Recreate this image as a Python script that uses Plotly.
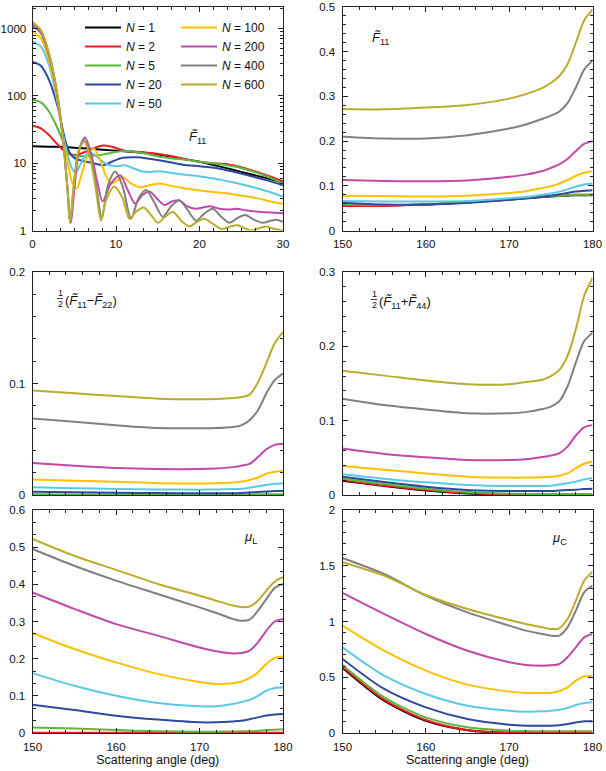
import plotly.graph_objects as go

W, H = 606, 771

# ---------------- data ----------------
N_values = ["1", "2", "5", "20", "50", "100", "200", "400", "600"]
colors = ["#000000", "#ec1c24", "#5cb83c", "#2e4aa0", "#5bc9e6",
          "#ffc000", "#c04aa8", "#808080", "#b8ae2c"]

# forward-scattering F11 (0-30 deg), log scale
fwd_x_1 = [0, 3, 5, 8, 11, 14, 17, 20, 22, 24, 26, 28, 30]
fwd_y_1 = [17.9, 17.5, 17, 16, 15, 14, 12.3, 10.5, 9.2, 8, 6.9, 6, 5.1]
fwd_x_2 = [0, 1, 2, 3, 4, 4.8, 5.5, 6.5, 7.5, 8.5, 9.5, 10.5, 11.5, 12.5, 14, 15.5, 17, 18.5, 20, 21.5, 23, 24.5, 26, 27.5, 29, 30]
fwd_y_2 = [36, 33, 26, 19, 14.5, 13.3, 13.5, 15, 17, 18.3, 17.5, 16, 15, 14.8, 14.2, 13.5, 12.5, 11.2, 10.5, 10.0, 9.8, 9.0, 8, 7, 6, 5.4]
fwd_x_5 = [0, 1, 2, 3, 4, 4.7, 5.5, 6.5, 7.5, 8.5, 9.5, 10.5, 11.5, 12.5, 14, 15.5, 17, 18.5, 20, 21.5, 23, 24.5, 26, 27.5, 29, 30]
fwd_y_5 = [88, 80, 58, 33, 17, 13.2, 12.8, 12.6, 13, 13.5, 14.3, 15, 15.2, 14.5, 13.5, 12.3, 11.6, 11.2, 10.5, 10, 9.5, 8.8, 7.8, 6.8, 5.7, 5.0]
fwd_x_20 = [0, 1, 2, 3, 4, 4.5, 5, 6, 7, 8.5, 9.5, 10.8, 12.5, 14, 16, 18, 20, 22, 24, 26, 28, 30]
fwd_y_20 = [320, 280, 170, 70, 20, 14, 12, 10.8, 10.2, 9.3, 10.5, 12, 12.2, 11.6, 10.6, 9.5, 9, 8.5, 7.5, 6.5, 5.6, 4.7]
fwd_x_50 = [0, 1, 2, 3, 3.7, 4.3, 4.8, 5.2, 5.8, 6.6, 7.4, 8.2, 9.0, 10.0, 11.0, 12.0, 13.2, 14.2, 15.2, 16.5, 18, 19.5, 21, 22.5, 24, 25.5, 27, 28.5, 30]
fwd_y_50 = [645, 540, 280, 80, 25, 12, 8, 7.2, 10, 14, 13.5, 11, 9.5, 9, 9.3, 8.5, 7.5, 7.4, 7.6, 7.2, 6.8, 6.5, 6.1, 5.7, 5.2, 4.7, 4.2, 3.7, 3.2]
fwd_x_100 = [0, 1, 2, 3, 3.7, 4.3, 4.8, 5.3, 5.9, 6.6, 7.3, 8.0, 8.7, 9.4, 10.1, 10.8, 11.8, 12.8, 14.0, 15.2, 16.3, 17.5, 19, 21, 23, 25, 27, 28.5, 30]
fwd_y_100 = [900, 720, 330, 85, 22, 9, 5, 4.2, 7, 13, 16.5, 12, 7, 5, 5.5, 6.2, 5, 4.4, 4.7, 5, 4.7, 4.4, 4.1, 3.8, 3.6, 3.3, 3.0, 2.7, 2.5]
fwd_x_200 = [0, 1, 2, 3, 3.7, 4.2, 4.6, 5.0, 5.6, 6.3, 7.0, 7.8, 8.4, 9.4, 10.5, 11.4, 12.3, 13.1, 14.0, 15.0, 15.8, 16.7, 17.6, 18.5, 19.5, 20.4, 21.3, 22.4, 23.5, 24.5, 25.5, 27, 28.5, 30]
fwd_y_200 = [1100, 860, 390, 95, 20, 4, 1.3, 4, 16, 24, 14, 5, 2.7, 5, 6.6, 4, 2.5, 3.3, 3.8, 2.9, 2.4, 2.7, 2.8, 2.3, 2.1, 2.2, 2.3, 2.1, 2.05, 2.1, 2.0, 1.9, 1.85, 1.8]
fwd_x_400 = [0, 1, 2, 3, 3.7, 4.2, 4.5, 4.9, 5.5, 6.2, 6.9, 7.7, 8.3, 9.0, 9.9, 10.8, 11.8, 12.7, 13.6, 14.6, 15.6, 16.6, 17.6, 18.6, 19.6, 20.6, 21.6, 22.6, 23.6, 24.6, 25.5, 26.5, 27.6, 28.5, 29.2, 30]
fwd_y_400 = [1200, 920, 410, 100, 20, 4, 1.3, 4, 15, 22, 13, 4, 1.5, 4.5, 7.5, 4.5, 1.5, 3, 4, 2.6, 1.6, 2.3, 2.8, 2, 1.4, 1.8, 2.1, 1.6, 1.3, 1.55, 1.7, 1.45, 1.3, 1.4, 1.45, 1.35]
fwd_x_600 = [0, 1, 2, 3, 3.7, 4.2, 4.5, 4.9, 5.5, 6.2, 6.9, 7.6, 8.2, 8.8, 9.8, 10.8, 11.6, 12.4, 13.3, 14.2, 15.0, 15.9, 16.8, 17.8, 18.8, 19.7, 20.6, 21.6, 22.7, 23.7, 24.6, 25.4, 26.2, 27.1, 28.0, 29.0, 30]
fwd_y_600 = [1250, 950, 420, 100, 20, 4, 1.3, 4, 15, 21, 12, 4, 1.4, 2.8, 4.5, 3, 1.5, 1.9, 2.2, 1.7, 1.3, 1.6, 1.9, 1.4, 1.15, 1.35, 1.5, 1.25, 1.05, 1.15, 1.2, 1.08, 1.0, 1.08, 1.15, 1.05, 1.0]

fwd_x = [fwd_x_1, fwd_x_2, fwd_x_5, fwd_x_20, fwd_x_50, fwd_x_100, fwd_x_200, fwd_x_400, fwd_x_600]
fwd_y = [fwd_y_1, fwd_y_2, fwd_y_5, fwd_y_20, fwd_y_50, fwd_y_100, fwd_y_200, fwd_y_400, fwd_y_600]

# backscattering region (150-180 deg)
back_x = [150, 155, 160, 165, 170, 172, 174, 175, 176, 177, 178, 179, 180]

f11_back = [
    [0.056, 0.056, 0.058, 0.063, 0.069, 0.072, 0.075, 0.076, 0.077, 0.078, 0.079, 0.079, 0.079],
    [0.055, 0.055, 0.058, 0.064, 0.070, 0.073, 0.076, 0.077, 0.078, 0.079, 0.080, 0.080, 0.080],
    [0.059, 0.057, 0.058, 0.063, 0.070, 0.073, 0.076, 0.077, 0.078, 0.079, 0.080, 0.080, 0.080],
    [0.062, 0.058, 0.058, 0.062, 0.069, 0.072, 0.076, 0.078, 0.081, 0.084, 0.087, 0.089, 0.090],
    [0.066, 0.065, 0.065, 0.066, 0.072, 0.075, 0.080, 0.083, 0.087, 0.092, 0.098, 0.103, 0.105],
    [0.078, 0.077, 0.076, 0.078, 0.084, 0.088, 0.095, 0.099, 0.105, 0.113, 0.122, 0.129, 0.132],
    [0.113, 0.111, 0.110, 0.112, 0.120, 0.125, 0.133, 0.140, 0.148, 0.160, 0.178, 0.194, 0.200],
    [0.210, 0.206, 0.206, 0.213, 0.228, 0.237, 0.250, 0.257, 0.266, 0.285, 0.320, 0.360, 0.380],
    [0.272, 0.271, 0.275, 0.281, 0.295, 0.305, 0.319, 0.330, 0.345, 0.372, 0.420, 0.470, 0.494],
]

f11_minus_f22 = [
    [0, 0, 0, 0, 0, 0, 0, 0, 0, 0, 0, 0, 0],
    [0.0001, 0.0001, 0.0001, 0.0001, 0.0001, 0.0001, 0.0001, 0.0001, 0.0001, 0.0001, 0.0001, 0.0001, 0.0001],
    [0.0006, 0.0005, 0.0004, 0.0004, 0.0004, 0.0004, 0.0004, 0.0004, 0.0005, 0.0006, 0.0006, 0.0007, 0.0007],
    [0.0030, 0.0025, 0.0020, 0.0017, 0.0015, 0.0015, 0.0016, 0.0018, 0.0022, 0.0027, 0.0031, 0.0035, 0.0036],
    [0.0069, 0.0061, 0.0054, 0.0050, 0.0048, 0.0050, 0.0054, 0.0057, 0.0066, 0.0078, 0.0090, 0.0100, 0.0106],
    [0.0139, 0.0128, 0.0118, 0.0106, 0.0103, 0.0105, 0.0112, 0.0120, 0.0135, 0.0157, 0.0190, 0.0208, 0.0218],
    [0.0287, 0.0263, 0.0242, 0.0233, 0.0233, 0.0238, 0.0250, 0.0263, 0.0280, 0.0340, 0.0410, 0.0450, 0.0460],
    [0.0686, 0.0656, 0.0625, 0.0600, 0.0598, 0.0600, 0.0610, 0.0625, 0.0670, 0.0760, 0.0910, 0.1030, 0.1090],
    [0.0937, 0.0912, 0.0888, 0.0864, 0.0858, 0.0862, 0.0870, 0.0878, 0.0900, 0.1010, 0.1180, 0.1360, 0.1460],
]

f11_plus_f44 = [
    [0.019, 0.012, 0.006, 0.002, 0.0003, 0.0001, 0, 0, 0, 0, 0, 0, 0],
    [0.020, 0.0126, 0.0067, 0.0027, 0.0005, 0.0002, 0.0001, 0, 0, 0, 0, 0, 0],
    [0.022, 0.0148, 0.0085, 0.004, 0.0018, 0.0015, 0.0013, 0.0013, 0.0013, 0.0013, 0.0013, 0.0013, 0.0013],
    [0.0247, 0.0175, 0.0112, 0.0067, 0.0054, 0.0054, 0.0054, 0.0054, 0.006, 0.0066, 0.0072, 0.008, 0.0085],
    [0.028, 0.022, 0.017, 0.0135, 0.012, 0.012, 0.0122, 0.0126, 0.014, 0.016, 0.018, 0.021, 0.023],
    [0.039, 0.034, 0.029, 0.0247, 0.0234, 0.0234, 0.024, 0.0247, 0.026, 0.029, 0.036, 0.042, 0.045],
    [0.0625, 0.0553, 0.0508, 0.047, 0.047, 0.048, 0.051, 0.053, 0.056, 0.065, 0.080, 0.091, 0.094],
    [0.1295, 0.121, 0.115, 0.110, 0.110, 0.1115, 0.1156, 0.119, 0.126, 0.146, 0.178, 0.207, 0.218],
    [0.167, 0.1606, 0.154, 0.149, 0.149, 0.152, 0.155, 0.160, 0.168, 0.187, 0.223, 0.268, 0.292],
]

mu_L = [
    [0, 0, 0, 0, 0, 0, 0, 0, 0, 0, 0, 0, 0],
    [0.0005, 0.0005, 0.0005, 0.0005, 0.0005, 0.0005, 0.0005, 0.0005, 0.0005, 0.0005, 0.0005, 0.0005, 0.0005],
    [0.015, 0.012, 0.008, 0.005, 0.0036, 0.0036, 0.004, 0.0045, 0.005, 0.006, 0.008, 0.009, 0.0099],
    [0.076, 0.062, 0.0466, 0.036, 0.0287, 0.0287, 0.031, 0.033, 0.037, 0.042, 0.047, 0.050, 0.051],
    [0.161, 0.127, 0.100, 0.081, 0.0717, 0.0717, 0.078, 0.083, 0.089, 0.100, 0.114, 0.121, 0.123],
    [0.269, 0.226, 0.190, 0.159, 0.137, 0.132, 0.134, 0.138, 0.148, 0.163, 0.186, 0.202, 0.206],
    [0.378, 0.334, 0.293, 0.262, 0.230, 0.220, 0.214, 0.215, 0.2215, 0.244, 0.275, 0.300, 0.307],
    [0.495, 0.450, 0.410, 0.374, 0.338, 0.323, 0.307, 0.302, 0.305, 0.329, 0.360, 0.390, 0.401],
    [0.522, 0.477, 0.439, 0.401, 0.3695, 0.356, 0.343, 0.339, 0.340, 0.356, 0.383, 0.407, 0.419],
]

mu_C = [
    [0.585, 0.290, 0.110, 0.025, 0.002, 0.001, 0, 0, 0, 0, 0, 0, 0],
    [0.595, 0.299, 0.117, 0.027, 0.003, 0.001, 0, 0, 0, 0, 0, 0, 0],
    [0.610, 0.320, 0.140, 0.051, 0.021, 0.017, 0.015, 0.015, 0.015, 0.015, 0.015, 0.015, 0.015],
    [0.664, 0.395, 0.230, 0.126, 0.075, 0.066, 0.066, 0.066, 0.070, 0.081, 0.095, 0.105, 0.105],
    [0.768, 0.514, 0.350, 0.245, 0.200, 0.191, 0.194, 0.200, 0.209, 0.225, 0.251, 0.268, 0.275],
    [0.963, 0.738, 0.559, 0.434, 0.371, 0.359, 0.359, 0.362, 0.374, 0.410, 0.469, 0.508, 0.514],
    [1.256, 1.067, 0.888, 0.738, 0.634, 0.610, 0.604, 0.607, 0.619, 0.679, 0.768, 0.858, 0.888],
    [1.570, 1.426, 1.232, 1.082, 0.963, 0.918, 0.888, 0.873, 0.873, 0.948, 1.097, 1.262, 1.321],
    [1.531, 1.411, 1.238, 1.112, 1.013, 0.978, 0.948, 0.933, 0.939, 1.022, 1.187, 1.366, 1.447],
]

# ---------------- figure ----------------
FONT = "Arial, Liberation Sans, sans-serif"
fig = go.Figure()

def px2x(p):
    return p / W

def px2y(p):
    return 1 - p / H

# subplot domains (pixels)
col_x = [(32.5, 283.0), (342.5, 592.5)]
row_y = [(7.0, 230.5), (272.0, 495.0), (510.0, 733.0)]

panels = [
    # (row, col, x-data, series, yrange, ydtick, yminor, log)
    (0, 0, None, fwd_y, None, None, None, True),
    (0, 1, back_x, f11_back, [0, 0.5], 0.1, 0.02, False),
    (1, 0, back_x, f11_minus_f22, [0, 0.2], 0.1, 0.02, False),
    (1, 1, back_x, f11_plus_f44, [0, 0.3], 0.1, 0.02, False),
    (2, 0, back_x, mu_L, [0, 0.6], 0.1, 0.1 / 3, False),
    (2, 1, back_x, mu_C, [0, 2], 0.5, 0.1, False),
]

axis_common = dict(
    showline=True, linecolor="#222222", linewidth=1, mirror="ticks",
    ticks="inside", ticklen=5, tickwidth=1, tickcolor="#222222",
    showgrid=False, zeroline=False, automargin=False,
    tickfont=dict(family=FONT, size=11.5, color="#111111"),
)

layout_axes = {}
for i, (r, c, xd, series, yr, ydt, ymin, islog) in enumerate(panels):
    k = i + 1
    xname = "xaxis" if k == 1 else f"xaxis{k}"
    yname = "yaxis" if k == 1 else f"yaxis{k}"
    xa = "x" if k == 1 else f"x{k}"
    ya = "y" if k == 1 else f"y{k}"
    x0, x1 = col_x[c]
    y0, y1 = row_y[r]
    xdom = [px2x(x0), px2x(x1)]
    ydom = [px2y(y1), px2y(y0)]
    if islog:
        xcfg = dict(range=[0, 30], tickmode="array", tickvals=[0, 10, 20, 30],
                    minor=dict(ticks="inside", ticklen=3, dtick=10 / 6, tickcolor="#222222"))
        minor_vals = [m * 10 ** d for d in range(0, 4) for m in range(2, 10)]
        ycfg = dict(type="log", range=[0, 3.32], tickmode="array",
                    tickvals=[1, 10, 100, 1000], ticktext=["1", "10", "100", "1000"],
                    minor=dict(ticks="inside", ticklen=3, tickmode="array",
                               tickvals=minor_vals, tickcolor="#222222"))
    else:
        xcfg = dict(range=[150, 180], tickmode="linear", tick0=150, dtick=10,
                    minor=dict(ticks="inside", ticklen=3, dtick=2, tickcolor="#222222"))
        ycfg = dict(range=yr, tickmode="linear", tick0=0, dtick=ydt,
                    minor=dict(ticks="inside", ticklen=3, dtick=ymin, tickcolor="#222222"))
    if r == 2:
        xcfg["title"] = dict(text="Scattering angle (deg)", standoff=0,
                             font=dict(family=FONT, size=12.5, color="#111111"))
    if r == 1:
        xcfg["showticklabels"] = False
    layout_axes[xname] = dict(axis_common, domain=xdom, anchor=ya, ticklabelstandoff=3, **xcfg)
    layout_axes[yname] = dict(axis_common, domain=ydom, anchor=xa,
                              ticklabelstandoff=3 if islog else 4, **ycfg)

    for j, name in enumerate(N_values):
        if islog:
            xs = fwd_x[j]
            ys = series[j]
            leg = "legend" if j < 5 else "legend2"
            show = True
        else:
            xs = xd
            ys = series[j]
            leg = "legend"
            show = False
        fig.add_trace(go.Scatter(
            x=xs, y=ys, mode="lines", name=f"<i>N</i> = {name}",
            line=dict(color=colors[j], width=2, shape="spline", smoothing=0.8),
            xaxis=xa, yaxis=ya, showlegend=show, legend=leg,
            hoverinfo="skip",
        ))

# ---------------- annotations ----------------
ann_font = dict(family=FONT, size=13, color="#111111")
small_font = dict(family=FONT, size=9, color="#111111")
annotations = [
    dict(text="<i>F̃</i><sub>11</sub>", x=px2x(197), y=px2y(137), font=ann_font),
    dict(text="<i>F̃</i><sub>11</sub>", x=px2x(380), y=px2y(38), font=ann_font),
    # 1/2 (F11 - F22)
    dict(text="1", x=px2x(60), y=px2y(293), font=small_font),
    dict(text="2", x=px2x(60), y=px2y(304), font=small_font),
    dict(text="(<i>F̃</i><sub>11</sub>−<i>F̃</i><sub>22</sub>)", x=px2x(63), y=px2y(302),
         xanchor="left", font=ann_font),
    # 1/2 (F11 + F44)
    dict(text="1", x=px2x(374), y=px2y(294), font=small_font),
    dict(text="2", x=px2x(374), y=px2y(305), font=small_font),
    dict(text="(<i>F̃</i><sub>11</sub>+<i>F̃</i><sub>44</sub>)", x=px2x(377), y=px2y(303),
         xanchor="left", font=ann_font),
    dict(text="<i>μ</i><sub>L</sub>", x=px2x(250), y=px2y(537), font=ann_font),
    dict(text="<i>μ</i><sub>C</sub>", x=px2x(559), y=px2y(538), font=ann_font),
]
for a in annotations:
    a.update(xref="paper", yref="paper", showarrow=False)
    a.setdefault("xanchor", "center")
    a.setdefault("yanchor", "middle")

shapes = [
    dict(type="line", xref="paper", yref="paper", x0=px2x(57), x1=px2x(63),
         y0=px2y(298.5), y1=px2y(298.5), line=dict(color="#111111", width=0.8)),
    dict(type="line", xref="paper", yref="paper", x0=px2x(371), x1=px2x(377),
         y0=px2y(299.5), y1=px2y(299.5), line=dict(color="#111111", width=0.8)),
]

leg_common = dict(bgcolor="rgba(0,0,0,0)", borderwidth=0, xanchor="left", yanchor="top",
                  font=dict(family=FONT, size=12, color="#111111"),
                  itemwidth=36, tracegroupgap=0)

fig.update_layout(
    width=W, height=H, autosize=False,
    margin=dict(l=0, r=0, t=0, b=0),
    paper_bgcolor="white", plot_bgcolor="white",
    font=dict(family=FONT, size=12, color="#111111"),
    annotations=annotations, shapes=shapes,
    legend=dict(leg_common, x=px2x(80), y=px2y(13)),
    legend2=dict(leg_common, x=px2x(176), y=px2y(13)),
    **layout_axes,
)

fig.write_html("out.html",
               config={"displayModeBar": False},
               post_script="document.body.style.margin='0';document.body.style.padding='0';"
                           "document.documentElement.style.overflow='hidden';")
